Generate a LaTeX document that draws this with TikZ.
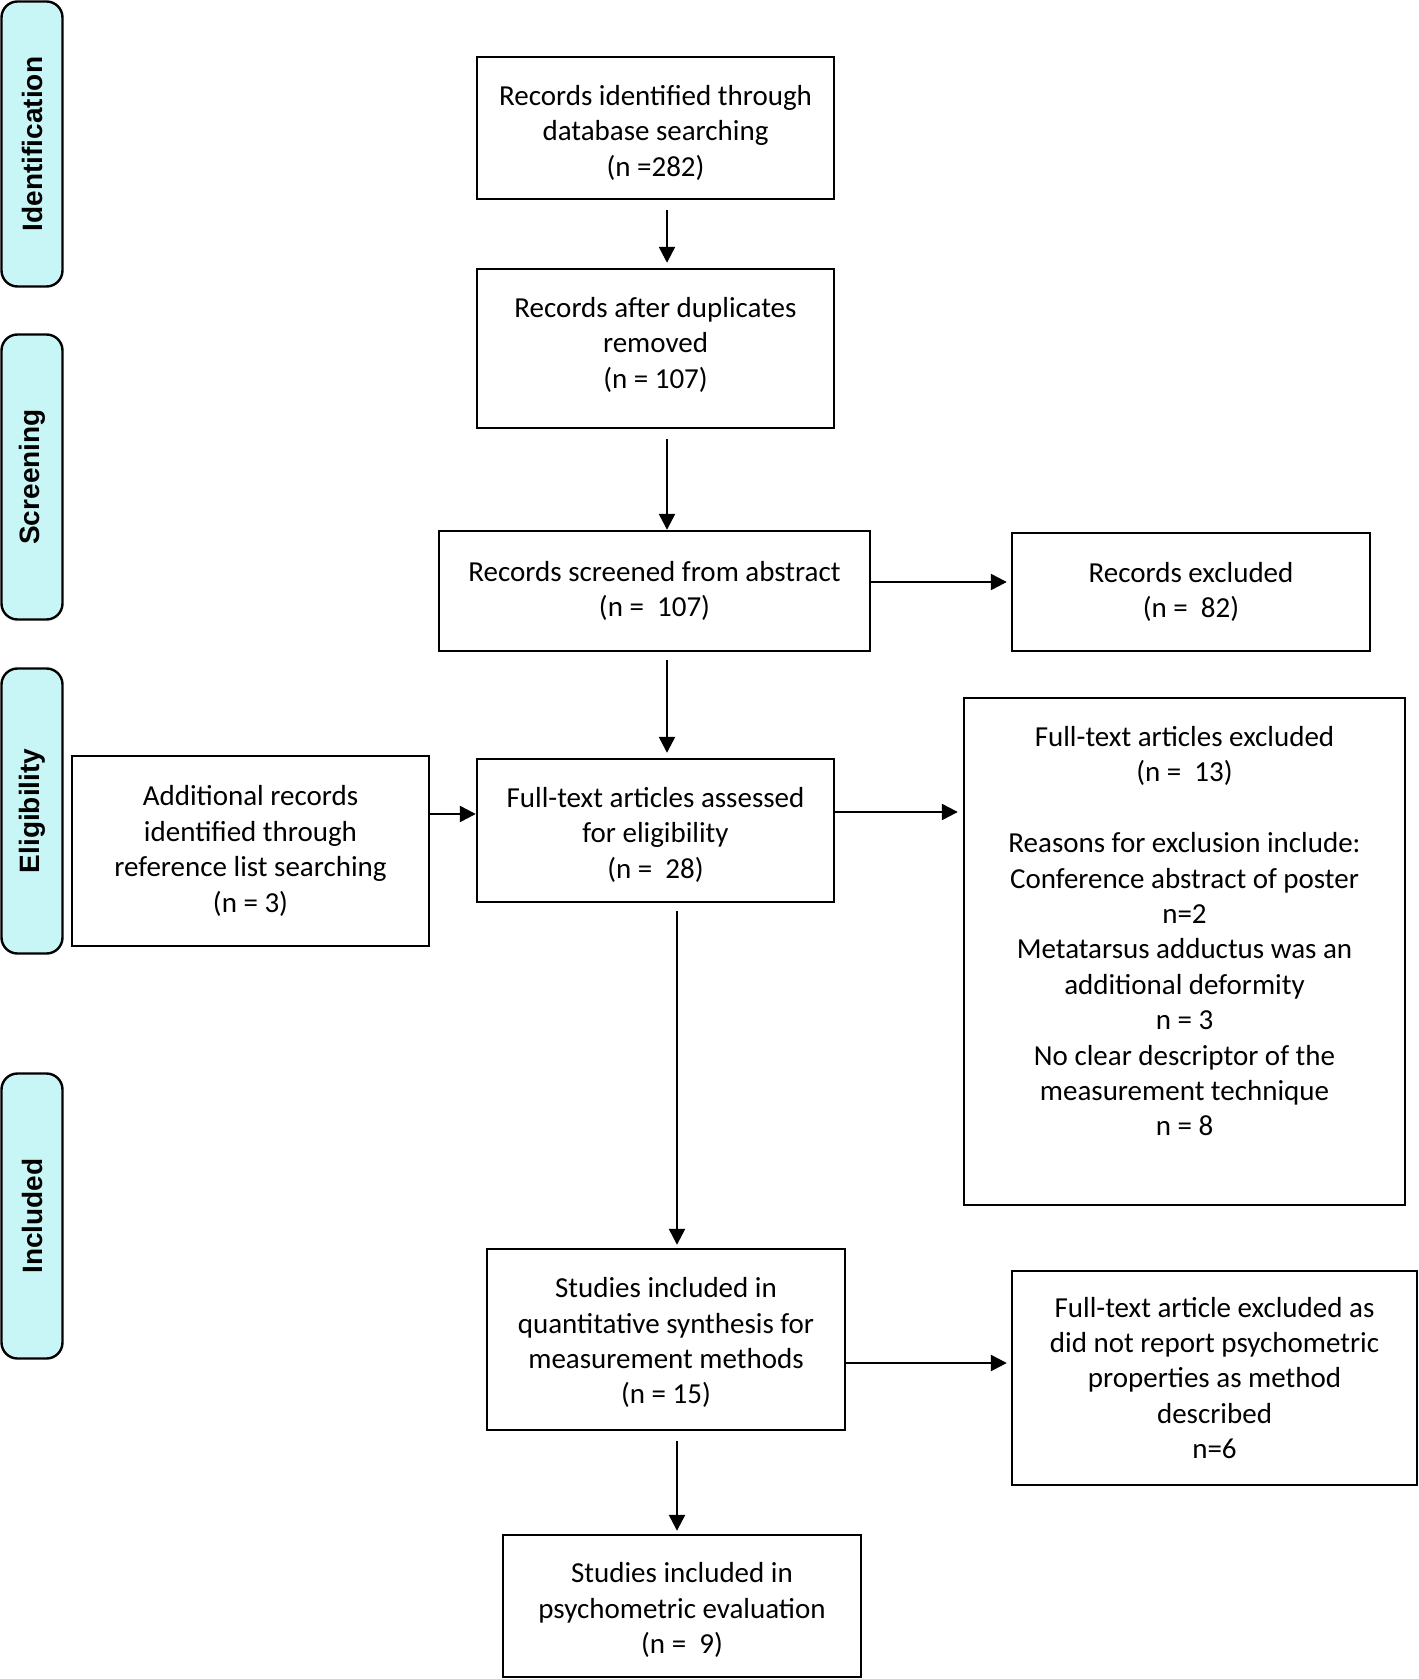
\documentclass[tikz,border=0pt]{standalone}
\usepackage{fontspec}
\setmainfont{Carlito}
\newfontfamily\stagefont{Liberation Sans}
\usepackage{tikz}
\usetikzlibrary{positioning, arrows.meta}
\definecolor{stagecyan}{RGB}{200,245,245}

\begin{document}
\begin{tikzpicture}[x=0.5pt, y=-0.5pt, line width=1.2pt,
    box/.style={draw, align=center, inner sep=2pt, font=\fontsize{14.5}{17.7}\selectfont},
    stage/.style={draw, rounded corners=8pt, fill=stagecyan, rotate=90, minimum width=142.5pt, minimum height=30.5pt, font=\stagefont\bfseries\fontsize{14}{16}\selectfont},
    arr/.style={-{Triangle[length=8pt, width=8pt]}}]
    \useasboundingbox (0,0) rectangle (1418,1679);

    % stages
    \node[stage] (sid) at (32,144) {Identification};
    \node[stage] (ssc) at (32,477) {Screening};
    \node[stage] (sel) at (32,811) {Eligibility};
    \node[stage] (sin) at (32,1216) {Included};

    % records
    \node[box, minimum width=178.5pt, minimum height=71pt] (r0) at (655.5,128)
        {Records identified through\\database searching\\(n =282)\\[-20.6pt]\mbox{}};
    \node[box, minimum width=178.5pt, minimum height=79.5pt] (r1) at (655.5,348.5)
        {Records after duplicates\\removed\\(n = 107)\\[-12pt]\mbox{}};
    \node[box, minimum width=215.5pt, minimum height=60pt] (r2) at (654.5,591)
        {Records screened from abstract\\(n = ~107)};
    \node[box, minimum width=179pt, minimum height=59pt] (r3) at (1191,592)
        {Records excluded\\(n = ~82)};
    \node[box, minimum width=178.5pt, minimum height=71.5pt] (r4) at (655.5,830.5)
        {Full-text articles assessed\\for eligibility\\(n = ~28)\\[-20pt]\mbox{}};
    \node[box, minimum width=178.5pt, minimum height=95pt] (r5) at (250.5,851)
        {Additional records\\identified through\\reference list searching\\(n = 3)};
    \node[box, minimum width=220.5pt, minimum height=253.5pt] (r6) at (1184.5,951.5)
        {Full-text articles excluded\\(n = ~13)\\[17.7pt]Reasons for exclusion include:\\Conference abstract of poster\\n=2\\Metatarsus adductus was an\\additional deformity\\n = 3\\No clear descriptor of the\\measurement technique\\n = 8\\[2.6pt]\mbox{}};
    \node[box, minimum width=179pt, minimum height=90.5pt] (r7) at (666,1339.5)
        {Studies included in\\quantitative synthesis for\\measurement methods\\(n = 15)\\[-19pt]\mbox{}};
    \node[box, minimum width=202.5pt, minimum height=107pt] (r8) at (1214.5,1378)
        {Full-text article excluded as\\did not report psychometric\\properties as method\\described\\n=6};
    \node[box, minimum width=179pt, minimum height=71pt] (r9) at (682,1606)
        {Studies included in\\psychometric evaluation\\(n = ~9)\\[-20pt]\mbox{}};

    \path[arr]
        (r0.south -| 667,0) edge[shorten <=5pt, shorten >=2.5pt] (r1.north -| 667,0)
        (r1.south -| 667,0) edge[shorten <=5pt] (r2.north -| 667,0)
        (r2.south -| 667,0) edge[shorten <=4pt, shorten >=2.5pt] (r4.north -| 667,0)
        (r4.south -| 677,0) edge[shorten <=4pt, shorten >=1.5pt] (r7.north -| 677,0)
        (r7.south -| 677,0) edge[shorten <=5pt, shorten >=1.5pt] (r9.north -| 677,0)
        (r2.east |- 0,582) edge[shorten >=2pt] (r3.west |- 0,582)
        (r5.east |- 0,814) edge (r4.west |- 0,814)
        (r4.east |- 0,812) edge[shorten >=2.5pt] (r6.west |- 0,812)
        (r7.east |- 0,1363) edge[shorten >=2pt] (r8.west |- 0,1363);
\end{tikzpicture}
\end{document}
